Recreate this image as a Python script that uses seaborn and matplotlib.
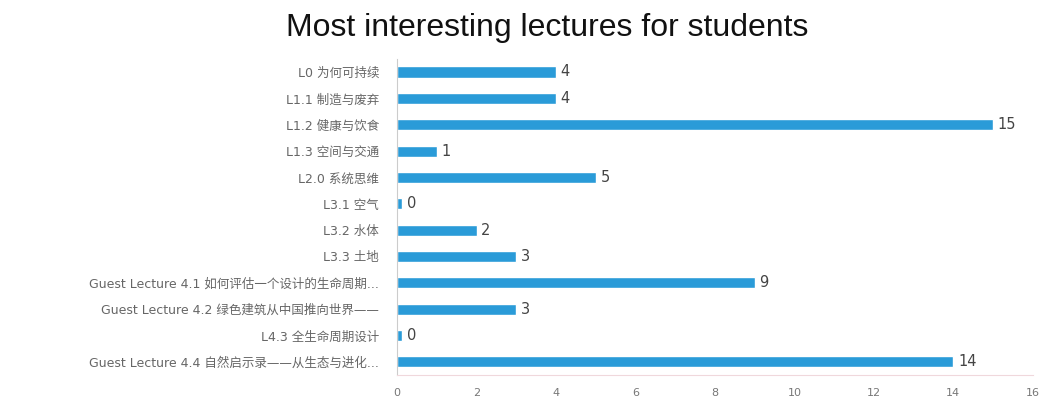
import matplotlib
matplotlib.use("Agg")
import matplotlib.pyplot as plt
import seaborn as sns
import pandas as pd
import numpy as np

lectures = [
    "L0 为何可持续",
    "L1.1 制造与废弃",
    "L1.2 健康与饮食",
    "L1.3 空间与交通",
    "L2.0 系统思维",
    "L3.1 空气",
    "L3.2 水体",
    "L3.3 土地",
    "Guest Lecture 4.1 如何评估一个设计的生命周期...",
    "Guest Lecture 4.2 绿色建筑从中国推向世界——",
    "L4.3 全生命周期设计",
    "Guest Lecture 4.4 自然启示录——从生态与进化...",
]
votes = [4, 4, 15, 1, 5, 0, 2, 3, 9, 3, 0, 14]
x_ticks = [0, 2, 4, 6, 8, 10, 12, 14, 16]
title = "Most interesting lectures for students"

df = pd.DataFrame({"lecture": lectures, "votes": votes})

sns.set_theme(style="white")
plt.rcParams["font.family"] = ["DejaVu Sans", "Noto Sans CJK SC"]

fig = plt.figure(figsize=(10.56, 4.07), dpi=100)
ax = fig.add_axes([0.376, 0.0785, 0.602, 0.777])

# zero-valued bars shown as a tiny stub like the original
stub = 0.13
df["plot"] = [v if v > 0 else stub for v in votes]
sns.barplot(data=df, x="plot", y="lecture", orient="h", color="#2a9bd8",
            saturation=1, width=0.42, ax=ax)

for i, v in enumerate(df["plot"]):
    ax.text(v + 0.12, i, str(votes[i]), va="center", ha="left",
            fontsize=10.5, color="#444444")

ax.set_xlim(0, 16)
ax.set_ylim(len(lectures) - 0.5, -0.5)
ax.set_xticks(x_ticks)
ax.set_xticklabels([str(t) for t in x_ticks], fontsize=8, color="#777777")
ax.set_yticks(range(len(lectures)))
ax.set_yticklabels(lectures, fontsize=9, color="#666666")
ax.set_xlabel("")
ax.set_ylabel("")

# category separator ticks on the y-axis
ax.set_yticks(np.arange(-0.5, len(lectures), 1), minor=True)
ax.tick_params(axis="y", which="minor", length=5, color="#cccccc", width=0.8)
ax.tick_params(axis="y", which="major", length=0, pad=13)
ax.tick_params(axis="x", which="major", length=0, pad=9)

for s in ["top", "right"]:
    ax.spines[s].set_visible(False)
ax.spines["left"].set_color("#cccccc")
ax.spines["left"].set_linewidth(0.8)
ax.spines["bottom"].set_color("#f0d8dc")
ax.spines["bottom"].set_linewidth(0.8)

fig.text(0.518, 0.93, title, ha="center", va="center", fontsize=23,
         family=["Liberation Sans", "DejaVu Sans"], color="#111111")

fig.savefig("out.png", dpi=100)
